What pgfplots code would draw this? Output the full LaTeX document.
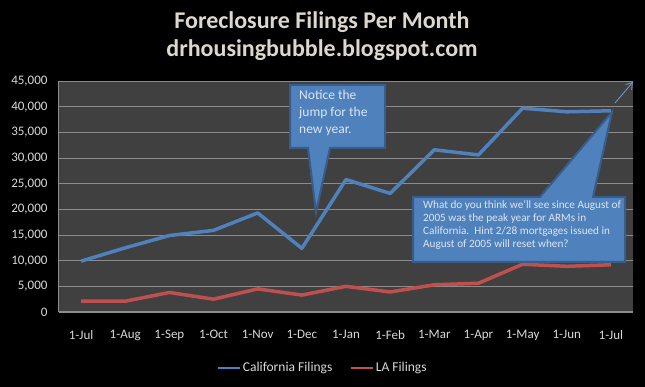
\documentclass[border=0pt]{standalone}
\usepackage{fontspec}
\setmainfont{Carlito}
\usepackage{pgfplots}
\pgfplotsset{compat=1.18}
\usetikzlibrary{arrows.meta}
\definecolor{cablue}{HTML}{4F81BD}
\definecolor{lared}{HTML}{C0504D}
\definecolor{plotbg}{HTML}{404040}
\definecolor{gridc}{HTML}{8C8C8C}
\definecolor{txt}{HTML}{D9D9D9}
\definecolor{titletxt}{HTML}{DDD8CF}
\definecolor{callbd}{HTML}{385D8A}
\definecolor{calltxt}{HTML}{DCE6F2}
\definecolor{arrowc}{HTML}{6F93C4}
\begin{document}
\begin{tikzpicture}[x=1pt,y=1pt]
\fill[black] (0,0) rectangle (645,387);
\node[titletxt,align=center,font=\fontsize{24}{28}\selectfont\bfseries] at (322,351) {Foreclosure Filings Per Month\\drhousingbubble.blogspot.com};
\begin{axis}[at={(59pt,75pt)},anchor=south west,scale only axis,width=574pt,height=231pt,
  xmin=-0.5,xmax=12.5,ymin=0,ymax=45000,
  xtick={0,...,12},
  xticklabels={1-Jul,1-Aug,1-Sep,1-Oct,1-Nov,1-Dec,1-Jan,1-Feb,1-Mar,1-Apr,1-May,1-Jun,1-Jul},
  ytick={0,5000,...,45000},
  scaled y ticks=false,
  /pgf/number format/1000 sep={,},
  /pgf/number format/assume math mode=true,
  axis background/.style={fill=plotbg},
  axis x line*=bottom, axis y line*=left,
  axis line style={gridc, line width=1pt},
  ymajorgrids, grid style={gridc, line width=0.8pt},
  major tick length=0,
  tick label style={txt, font=\fontsize{13}{15}\selectfont},
  xticklabel style={yshift=-15pt},
  yticklabel style={xshift=-8pt},
  legend columns=2,
  legend style={at={(0.46,-0.242)},anchor=center,draw=none,fill=none,text=txt,
    font=\fontsize{13.5}{15}\selectfont,
    /tikz/every even column/.append style={column sep=16pt}},
  legend image code/.code={\draw[line width=1.5pt] (0pt,0pt) -- (22pt,0pt);},
]
\addplot[cablue, line width=3.5pt, line join=round] coordinates {(0,9900)(1,12500)(2,14900)(3,15900)(4,19300)(5,12400)(6,25800)(7,23100)(8,31600)(9,30600)(10,39700)(11,39000)(12,39200)};
\addlegendentry{California Filings}
\addplot[lared, line width=3.5pt, line join=round] coordinates {(0,2100)(1,2100)(2,3800)(3,2500)(4,4500)(5,3300)(6,5000)(7,3900)(8,5300)(9,5600)(10,9300)(11,8900)(12,9200)};
\addlegendentry{LA Filings}
\end{axis}
% callout 1
\draw[fill=cablue, draw=callbd, line width=2pt, line join=miter]
  (290,302) -- (385,302) -- (385,239) -- (330,239) -- (316,175) -- (308,239) -- (290,239) -- cycle;
\node[anchor=north west, inner sep=0pt, align=left, text=calltxt, font=\fontsize{13.5}{17}\selectfont] at (299,297) {Notice the\\jump for the\\new year.};
% callout 2
\draw[fill=cablue, draw=callbd, line width=2pt, line join=miter]
  (413,125) -- (625,125) -- (625,190) -- (593,190) -- (612,275) -- (540,190) -- (413,190) -- cycle;
\node[anchor=north west, inner sep=0pt, align=left, text=calltxt, font=\fontsize{11.2}{13}\selectfont] at (423,186.5) {What do you think we'll see since August of\\2005 was the peak year for ARMs in\\California.\ \ Hint 2/28 mortgages issued in\\August of 2005 will reset when?};
% arrow
\draw[arrowc, line width=0.9pt, -{Straight Barb[length=6pt,width=8pt]}] (615,284) -- (633,305);
\end{tikzpicture}
\end{document}
